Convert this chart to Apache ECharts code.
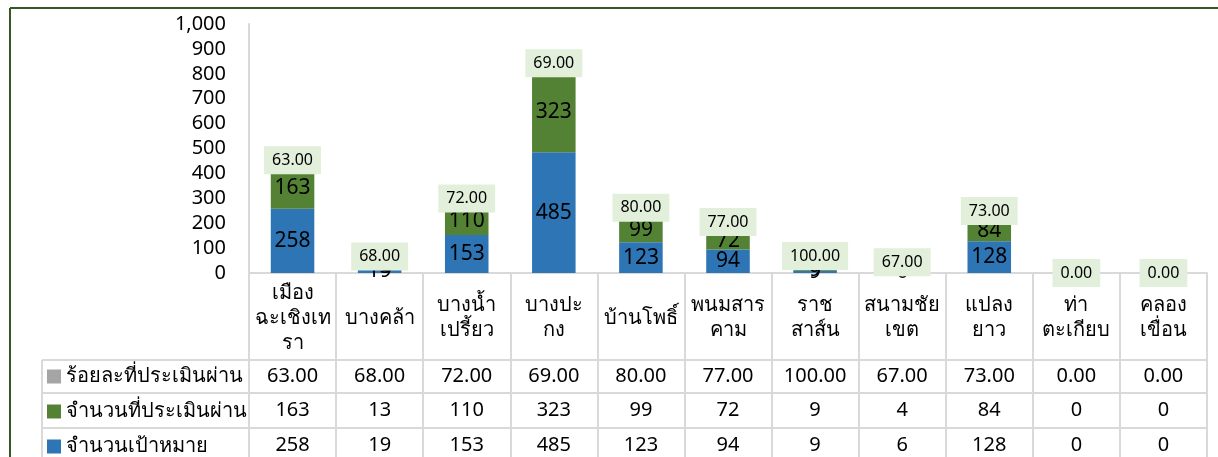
<!DOCTYPE html>
<html>
<head>
<meta charset="utf-8">
<script src="https://cdn.jsdelivr.net/npm/echarts@6/dist/echarts.min.js"></script>
<style>
  html, body { margin: 0; padding: 0; background: #fff; }
  #main { width: 1218px; height: 457px; }
</style>
</head>
<body>
<div id="main"></div>
<script>
// ข้อมูล
var categories = ['เมือง\nฉะเชิงเท\nรา', 'บางคล้า', 'บางน้ำ\nเปรี้ยว', 'บางปะ\nกง', 'บ้านโพธิ์',
  'พนมสาร\nคาม', 'ราช\nสาส์น', 'สนามชัย\nเขต', 'แปลง\nยาว', 'ท่า\nตะเกียบ', 'คลอง\nเขื่อน'];
var targetCounts = [258, 19, 153, 485, 123, 94, 9, 6, 128, 0, 0];
var passedCounts = [163, 13, 110, 323, 99, 72, 9, 4, 84, 0, 0];
var passPercent = [63, 68, 72, 69, 80, 77, 100, 67, 73, 0, 0];
var seriesNames = ['จำนวนเป้าหมาย', 'จำนวนที่ประเมินผ่าน', 'ร้อยละที่ประเมินผ่าน'];

var FONT = 'Tahoma, "Noto Sans", "DejaVu Sans", sans-serif';
var gridColor = '#d9d9d9';
var axisY = 273; // ตำแหน่งแกน x (ขอบล่างของ grid)

var myChart = echarts.init(document.getElementById('main'));

function rowAxis(values, fmt, offset) {
	return {
		type: 'category',
		gridIndex: 0,
		position: 'bottom',
		offset: offset,
		data: categories,
		axisLine: { show: false },
		axisTick: { show: false },
		axisLabel: {
			interval: 0,
			margin: 0,
			verticalAlign: 'middle',
			fontSize: 20,
			fontFamily: FONT,
			color: '#000',
			formatter: function (v, i) { return fmt(values[i]); }
		}
	};
}

function hideZero(p) {
	return p.value === 0 ? '' : String(p.value);
}

var option = {
	animation: false,
	textStyle: { fontFamily: FONT },
	grid: {
		left: 249,
		right: 11,
		top: 24,
		bottom: 457 - axisY
	},
	legend: {
		orient: 'vertical',
		left: 47,
		top: 365,
		height: 200,
		padding: 0,
		icon: 'rect',
		itemWidth: 14,
		itemHeight: 14,
		itemGap: 12,
		selectedMode: false,
		data: [seriesNames[2], seriesNames[1], seriesNames[0]],
		textStyle: { fontSize: 20, lineHeight: 23, color: '#000', fontFamily: FONT }
	},
	xAxis: [{
			type: 'category',
			data: categories,
			axisLine: { lineStyle: { color: gridColor, width: 2 } },
			axisTick: { show: true, length: 184, lineStyle: { color: gridColor, width: 2 } },
			axisLabel: {
				interval: 0,
				margin: 45,
				verticalAlign: 'middle',
				lineHeight: 25,
				fontSize: 20,
				fontFamily: FONT,
				color: '#000'
			}
		},
		rowAxis(passPercent, function (v) { return v.toFixed(2); }, 103),
		rowAxis(passedCounts, function (v) { return String(v); }, 137),
		rowAxis(targetCounts, function (v) { return String(v); }, 172)
	],
	yAxis: {
		type: 'value',
		min: 0,
		max: 1000,
		interval: 100,
		axisLine: { show: true, lineStyle: { color: gridColor, width: 2 } },
		axisTick: { show: false },
		splitLine: { show: false },
		axisLabel: {
			margin: 23,
			fontSize: 20,
			fontFamily: FONT,
			color: '#000',
			formatter: function (v) { return v.toLocaleString('en-US'); }
		}
	},
	series: [{
			name: seriesNames[0],
			type: 'bar',
			stack: 'total',
			barWidth: '50%',
			data: targetCounts,
			itemStyle: { color: '#2e75b6' },
			label: { show: true, position: 'inside', fontSize: 21, color: '#000', formatter: hideZero }
		},
		{
			name: seriesNames[1],
			type: 'bar',
			stack: 'total',
			data: passedCounts,
			itemStyle: { color: '#548235' },
			label: { show: true, position: 'inside', fontSize: 21, color: '#000', formatter: hideZero }
		},
		{
			name: seriesNames[2],
			type: 'bar',
			stack: 'total',
			data: passPercent,
			itemStyle: { color: '#a5a5a5' },
			label: {
				show: true,
				position: 'inside',
				fontSize: 16,
				color: '#000',
				backgroundColor: '#e2efda',
				padding: [6, 8],
				formatter: function (p) { return p.value.toFixed(2); }
			}
		}
	],
	graphic: [
		// กรอบของแผนภูมิ
		{ type: 'line', shape: { x1: 10, y1: 8, x2: 1218, y2: 8 }, style: { stroke: '#375623', lineWidth: 2 } },
		{ type: 'line', shape: { x1: 10, y1: 8, x2: 10, y2: 457 }, style: { stroke: '#375623', lineWidth: 2 } },
		// เส้นตารางข้อมูล
		{ type: 'line', shape: { x1: 42, y1: 360, x2: 1207, y2: 360 }, style: { stroke: gridColor, lineWidth: 2 } },
		{ type: 'line', shape: { x1: 42, y1: 393, x2: 1207, y2: 393 }, style: { stroke: gridColor, lineWidth: 2 } },
		{ type: 'line', shape: { x1: 42, y1: 428, x2: 1207, y2: 428 }, style: { stroke: gridColor, lineWidth: 2 } },
		{ type: 'line', shape: { x1: 42, y1: 360, x2: 42, y2: 457 }, style: { stroke: gridColor, lineWidth: 2 } }
	]
};

option && myChart.setOption(option);
</script>
</body>
</html>
